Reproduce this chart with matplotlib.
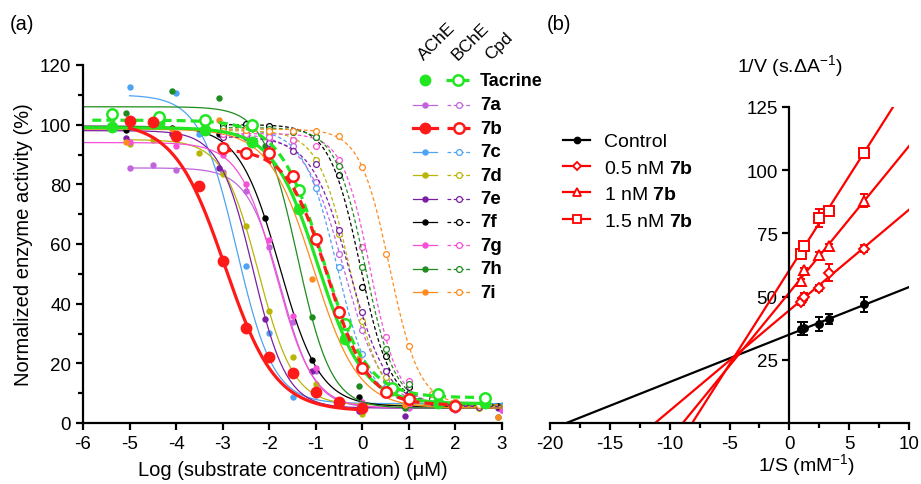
import numpy as np
import matplotlib
matplotlib.use('Agg')
import matplotlib.pyplot as plt
from matplotlib.lines import Line2D
from matplotlib.ticker import MultipleLocator, FixedLocator

plt.rcParams['font.family'] = ['Liberation Sans', 'DejaVu Sans']
plt.rcParams['mathtext.fontset'] = 'custom'
plt.rcParams['mathtext.rm'] = 'Liberation Sans'
plt.rcParams['mathtext.bf'] = 'Liberation Sans:bold'
plt.rcParams['axes.unicode_minus'] = False

# ---------------- panel (a) data ----------------
compounds = ['7a', '7c', '7d', '7e', '7f', '7g', '7h', '7i']
legend_order = ['7a', '7b', '7c', '7d', '7e', '7f', '7g', '7h', '7i']

tac_x = [-5.37, -4.37, -3.37, -2.37, -1.37, -0.37, 0.63, 1.63, 2.63]
tac_ache = [99.1, 100.5, 98.3, 94.3, 71.6, 28.2, 11.2, 6.7, 6.7]
tac_bche = [103.5, 102.6, 101.4, 99.9, 78.2, 33.1, 11.8, 9.8, 8.3]
tac_ache_fit = [99, 6.5, -0.95, 0.89]     # top, bottom, logIC50, hill
tac_bche_fit = [101.5, 8.5, -0.85, 0.92]

b_ache_x = [-5, -4.5, -4, -3.5, -3, -2.5, -2, -1.5, -1, -0.5, 0]
b_ache = [101.3, 100.8, 96.1, 79.6, 54.2, 31.7, 22.2, 16.7, 10.3, 6.9, 4.9]
b_bche_x = [-3, -2.5, -2, -1.5, -1, -0.5, 0, 0.5, 1, 2]
b_bche = [92.2, 90.5, 90.5, 82.7, 61.7, 37.3, 18.3, 10.5, 8.0, 5.6]
b_ache_fit = [101, 4, -2.95, 0.8]
b_bche_fit = [92, 6, -0.74, 1.0]

ache_x = {
    '7a': [-5, -4.5, -4, -3, -2.5, -2, -1.5, -1, 0, 1, 2, 3],
    '7c': [-5, -4, -3.5, -2.5, -2, -1.5, -1, 0, 1, 2, 3],
    '7d': [-5, -4.5, -3.5, -3, -2.5, -2, -1.5, -1, 0, 1, 2, 3],
    '7e': [-5.08, -4.08, -3.08, -2.08, -1.08, -0.08, 0.92, 1.92, 2.92],
    '7f': [-5.08, -4.08, -3.08, -2.08, -1.08, -0.08, 0.92, 1.92, 2.92],
    '7g': [-5, -4, -3, -2.5, -2, -1.5, -1, 0, 1, 2, 3],
    '7h': [-5.08, -4.08, -3.08, -2.08, -1.08, -0.08, 0.92, 2.92],
    '7i': [-5.08, -4.08, -3.08, -2.08, -1.08, -0.08, 0.92, 1.92, 2.92],
}
ache_y = {
    '7a': [85.4, 86.5, 84.8, 84.2, 77.7, 59.0, 33.8, 17.5, 6.0, 5.0, 4.5, 4.5],
    '7c': [112.6, 110.6, 96.9, 52.5, 30.2, 8.6, 9.5, 6.0, 7.0, 6.0, 6.0],
    '7d': [93.5, 94.9, 90.5, 83.5, 65.9, 37.7, 22.0, 13.1, 3.0, 6.0, 6.0, 5.0],
    '7e': [95.4, 97.0, 85.4, 34.9, 17.3, 4.0, 2.2, 5.0, 5.0],
    '7f': [98.3, 99.0, 96.9, 68.8, 21.1, 8.8, 5.5, 5.5, 5.6],
    '7g': [94.1, 93.0, 90.0, 80.0, 61.4, 36.0, 18.5, 7.0, 5.5, 5.0, 4.5],
    '7h': [103.8, 111.2, 109.0, 93.0, 35.4, 12.5, 4.9, 1.9],
    '7i': [94.1, 98.6, 101.6, 90.0, 48.3, 21.7, 6.0, 5.0, 1.9],
}
ache_fit = {
    '7a': [85.5, 5, -1.75, 1.2],
    '7c': [110, 6.5, -2.7, 1.1],
    '7d': [95, 6, -2.23, 1.14],
    '7e': [98, 5, -2.35, 1.2],
    '7f': [99.5, 5.5, -1.78, 1.0],
    '7g': [94, 5, -1.85, 1.1],
    '7h': [106, 5, -1.39, 1.2],
    '7i': [98.5, 5, -1.05, 0.9],
}
# range of the drawn AChE fit curves
ache_range = {'7a': (-5, 3), '7c': (-5, 3), '7d': (-5, 3), '7e': (-6, 3),
              '7f': (-6, 3), '7g': (-6, 3), '7h': (-6, 3), '7i': (-6, 3)}

bche_x = [-3, -2.5, -2, -1.5, -1, -0.5, 0, 0.5, 1, 1.5, 2, 2.5]
bche_y = {
    '7a': [97, 97, 96, 93, 80.7, 56.7, 31.3, 14, 9, 7, 6, 5.5],
    '7c': [98, 98, 97, 95, 78.8, 52.2, 23.1, 12, 9, 7, 6, 6],
    '7d': [98, 98, 97.4, 95, 88, 63.4, 34.3, 15.3, 9, 7, 5, 5],
    '7e': [96, 96, 94, 91.3, 86.7, 64.7, 37.1, 17.5, 10, 7, 6, 5.5],
    '7f': [100, 100.2, 99.4, 98, 95.9, 83, 45.5, 22.6, 12, 8, 6.5, 6],
    '7g': [97, 97, 96, 95, 92.7, 88.3, 59, 28.7, 14, 9, 7, 6],
    '7h': [99, 99, 98.5, 97.5, 95.9, 86, 52.2, 24.8, 13, 8, 6.5, 6],
    '7i': [98, 98.2, 98, 98, 97.8, 96.1, 85.7, 56.7, 25.9, 9.7, 7, 6],
}
bche_fit = {
    '7a': [97, 5.5, -0.39, 1.06],
    '7c': [98.5, 6, -0.54, 1.21],
    '7d': [98, 5.5, -0.27, 1.28],
    '7e': [96, 5.5, -0.27, 1.07],
    '7f': [100, 6, -0.05, 1.32],
    '7g': [97, 6, 0.17, 1.45],
    '7h': [99, 6, 0.06, 1.36],
    '7i': [98.5, 6, 0.585, 1.36],
}

colors = {'7a': '#c065dd', '7b': '#ff1a1a', '7c': '#4ea3f2', '7d': '#b9b507',
          '7e': '#7b1fa2', '7f': '#000000', '7g': '#f550d8', '7h': '#1e8c1e',
          '7i': '#ff8a1e', 'tac': '#22e622'}

# ---------------- panel (b) data ----------------
inv_s = [1.0, 1.25, 2.5, 3.33, 6.25]
control = [37.3, 37.5, 39.0, 41.0, 47.0]
control_err = [2.5, 2.5, 2.8, 2.0, 3.0]
nm05 = [48.0, 50.0, 53.5, 59.5, 69.0]
nm05_err = [1.5, 1.5, 1.2, 3.5, 1.5]
nm1 = [56.0, 60.5, 66.5, 70.0, 88.0]
nm1_err = [1.0, 1.0, 1.0, 1.0, 2.5]
nm15 = [67.0, 70.0, 81.0, 84.0, 107.0]
nm15_err = [1.0, 1.0, 3.5, 1.0, 1.0]


def logistic(x, top, bottom, logic50, hill):
    return bottom + (top - bottom) / (1 + 10 ** ((x - logic50) * hill))


fig = plt.figure(figsize=(9.21, 4.85), dpi=100)

# ---------------- panel (a) ----------------
ax = fig.add_axes([83 / 921, 61 / 485, 419 / 921, 358 / 485])
thin_dash = (0, (3, 2))
for k in compounds:
    c = colors[k]
    lo, hi = ache_range[k]
    xs = np.linspace(lo, hi, 300)
    ax.plot(xs, logistic(xs, *ache_fit[k]), color=c, lw=0.9)
    ax.plot(ache_x[k], ache_y[k], 'o', color=c, ms=3.6)
for k in compounds:
    c = colors[k]
    xs = np.linspace(-3, 3, 300)
    ax.plot(xs, logistic(xs, *bche_fit[k]), color=c, lw=0.9, ls=thin_dash)
    ax.plot(bche_x, bche_y[k], 'o', mfc='white', mec=c, mew=0.9, ms=4.2)

xs = np.linspace(-6, 2.63, 300)
ax.plot(xs, logistic(xs, *tac_ache_fit), color=colors['tac'], lw=2.3)
ax.plot(tac_x, tac_ache, 'o', color=colors['tac'], ms=7.5)
xs = np.linspace(-5.8, 2.63, 300)
ax.plot(xs, logistic(xs, *tac_bche_fit), color=colors['tac'], lw=2.3, ls=(0, (2.8, 1.6)))
ax.plot(tac_x, tac_bche, 'o', mfc='white', mec=colors['tac'], mew=1.8, ms=7.5)

xs = np.linspace(-5, 0, 300)
ax.plot(xs, logistic(xs, *b_ache_fit), color=colors['7b'], lw=2.3)
ax.plot(b_ache_x, b_ache, 'o', color=colors['7b'], ms=7.5)
xs = np.linspace(-3, 2, 300)
ax.plot(xs, logistic(xs, *b_bche_fit), color=colors['7b'], lw=2.3, ls=(0, (2.8, 1.6)))
ax.plot(b_bche_x, b_bche, 'o', mfc='white', mec=colors['7b'], mew=1.8, ms=7.5)

ax.set_xlim(-6, 3)
ax.set_ylim(0, 120)
ax.xaxis.set_major_locator(MultipleLocator(1))
ax.yaxis.set_major_locator(MultipleLocator(20))
ax.yaxis.set_minor_locator(MultipleLocator(10))
for s in ['top', 'right']:
    ax.spines[s].set_visible(False)
for s in ['left', 'bottom']:
    ax.spines[s].set_linewidth(1.6)
ax.tick_params(which='major', length=5, width=1.6, labelsize=13.5, direction='out')
ax.tick_params(which='minor', length=3.5, width=1.6)
ax.set_xlabel('Log (substrate concentration) (\u03bcM)', fontsize=14.5, labelpad=6)
ax.set_ylabel('Normalized enzyme activity (%)', fontsize=14.5, labelpad=5)

# legend of panel (a), drawn on an overlay in pixel units
leg = fig.add_axes([0, 0, 1, 1])
leg.set_xlim(0, 921)
leg.set_ylim(485, 0)
leg.axis('off')
leg.set_zorder(5)
leg.text(424, 61, 'AChE', rotation=45, rotation_mode='anchor', fontsize=12.5)
leg.text(458, 61, 'BChE', rotation=45, rotation_mode='anchor', fontsize=12.5)
leg.text(491, 61, 'Cpd', rotation=45, rotation_mode='anchor', fontsize=12.5)

ya = 81
leg.plot(425, ya, 'o', color=colors['tac'], ms=7.5)
leg.plot([446, 470], [ya, ya], color=colors['tac'], lw=2.3, ls=(0, (2.8, 1.6)))
leg.plot(458, ya, 'o', mfc='white', mec=colors['tac'], mew=1.8, ms=7.5)
leg.text(480, ya, 'Tacrine', fontsize=13, fontweight='bold', va='center')
for i, k in enumerate(legend_order):
    y = 106 + 23.4 * i
    c = colors[k]
    big = (k == '7b')
    lw = 2.3 if big else 0.9
    ms = 7.5 if big else 3.6
    leg.plot([413, 437], [y, y], color=c, lw=lw)
    leg.plot(425, y, 'o', color=c, ms=ms)
    leg.plot([447, 472], [y, y], color=c, lw=lw,
             ls=(0, (2.8, 1.6)) if big else thin_dash)
    leg.plot(459, y, 'o', mfc='white', mec=c, mew=1.8 if big else 0.9,
             ms=7.5 if big else 4.2)
    leg.text(480, y, k, fontsize=13.5, fontweight='bold', va='center')

# ---------------- panel (b) ----------------
axb = fig.add_axes([550 / 921, 61 / 485, 359 / 921, 316 / 485])
xs = np.linspace(-20, 10, 200)
series = [(control, control_err, 'black', 'o', 'Control'),
          (nm05, nm05_err, 'red', 'D', r'0.5 nM $\mathbf{7b}$'),
          (nm1, nm1_err, 'red', '^', r'1 nM $\mathbf{7b}$'),
          (nm15, nm15_err, 'red', 's', r'1.5 nM $\mathbf{7b}$')]
msz = {'o': 5, 'D': 5.2, '^': 7.5, 's': 6.5}
handles = []
for vals, err, c, m, lab in series:
    p = np.polyfit(inv_s, vals, 1)
    axb.plot(xs, np.polyval(p, xs), color=c, lw=1.6)
    filled = (m == 'o')
    axb.errorbar(inv_s, vals, yerr=err, fmt=m, color=c, ms=msz[m],
                 mfc=c if filled else 'white', mec=c, mew=1.4,
                 elinewidth=1.4, capsize=3, capthick=1.4, zorder=3)
    handles.append(Line2D([], [], color=c, lw=1.6, marker=m,
                          ms=msz[m] * 0.85, mfc=c if filled else 'white', mec=c, mew=1.3,
                          label=lab))
axb.set_xlim(-20, 10)
axb.set_ylim(0, 125)
axb.spines['left'].set_position(('data', 0))
for s in ['top', 'right']:
    axb.spines[s].set_visible(False)
for s in ['left', 'bottom']:
    axb.spines[s].set_linewidth(1.6)
axb.xaxis.set_major_locator(MultipleLocator(5))
axb.xaxis.set_minor_locator(MultipleLocator(2.5))
axb.yaxis.set_major_locator(FixedLocator([25, 50, 75, 100, 125]))
axb.tick_params(which='major', length=5, width=1.6, labelsize=13.5, direction='out')
axb.tick_params(which='minor', length=3.5, width=1.6)
axb.legend(handles=handles, loc='upper left', bbox_to_anchor=(0.004, 0.955),
           frameon=False, fontsize=14, handlelength=1.4, handletextpad=0.7,
           labelspacing=0.45, borderaxespad=0.2)

fig.text(790 / 921, 1 - 67 / 485, r'1/V (s.$\Delta$A$^{-1}$)', fontsize=14,
         ha='center', va='center')
fig.text(807 / 921, 1 - 466 / 485, r'1/S (mM$^{-1}$)', fontsize=14,
         ha='center', va='center')

fig.text(10 / 921, 1 - 25 / 485, '(a)', fontsize=14.5, va='center')
fig.text(547 / 921, 1 - 25 / 485, '(b)', fontsize=14.5, va='center')

fig.savefig('out.png', dpi=100)
